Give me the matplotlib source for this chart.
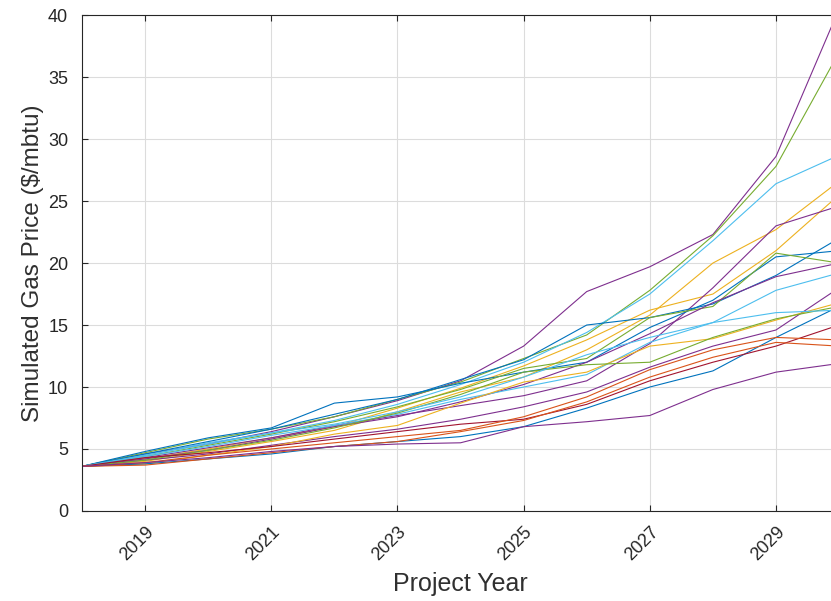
import numpy as np
import matplotlib
matplotlib.use('Agg')
import matplotlib.pyplot as plt

# 模拟天然气价格路径
years = list(range(2018, 2031))

paths = [
    [3.6, 4.6, 5.4, 6.4, 7.6, 8.9, 10.5, 13.3, 17.7, 19.7, 22.3, 28.6, 40.5],
    [3.6, 4.7, 5.8, 6.6, 7.6, 9.0, 10.4, 12.3, 14.2, 17.8, 22.2, 27.8, 37.0],
    [3.6, 4.5, 5.5, 6.3, 7.3, 8.6, 10.2, 12.0, 14.4, 17.5, 21.8, 26.4, 28.7],
    [3.6, 4.0, 4.8, 5.6, 6.5, 8.0, 9.6, 10.8, 13.0, 15.8, 20.0, 22.7, 26.6],
    [3.6, 4.2, 5.0, 5.9, 6.8, 8.3, 9.9, 11.7, 13.8, 16.2, 17.5, 21.0, 25.5],
    [3.6, 4.3, 5.1, 5.9, 6.9, 7.7, 8.5, 9.3, 10.5, 13.5, 18.0, 23.0, 24.6],
    [3.6, 4.6, 5.6, 6.6, 7.8, 9.0, 10.6, 12.2, 15.0, 15.6, 16.7, 19.0, 22.0],
    [3.6, 4.8, 5.9, 6.7, 8.7, 9.2, 10.3, 11.2, 12.0, 14.8, 17.0, 20.5, 21.0],
    [3.6, 4.4, 5.3, 6.2, 7.2, 8.4, 9.8, 11.5, 12.3, 15.6, 16.5, 20.8, 20.0],
    [3.6, 4.2, 4.9, 5.8, 6.8, 7.6, 8.8, 10.2, 12.0, 14.3, 16.8, 18.9, 20.0],
    [3.6, 4.4, 5.2, 6.1, 6.9, 7.8, 9.0, 10.0, 11.0, 13.6, 15.2, 17.8, 19.2],
    [3.6, 4.1, 4.6, 5.3, 6.0, 6.6, 7.4, 8.4, 9.6, 11.6, 13.3, 14.6, 18.0],
    [3.6, 3.8, 4.5, 5.2, 6.2, 6.9, 8.7, 10.4, 11.2, 13.3, 13.9, 15.4, 16.8],
    [3.6, 4.1, 4.9, 5.7, 6.7, 7.9, 9.4, 11.2, 11.8, 12.0, 14.0, 15.5, 16.5],
    [3.6, 3.8, 4.2, 4.6, 5.2, 5.6, 6.0, 6.8, 8.3, 10.0, 11.3, 14.0, 16.5],
    [3.6, 4.5, 5.4, 6.3, 7.0, 8.0, 9.2, 10.8, 12.6, 14.0, 15.2, 16.0, 16.2],
    [3.6, 4.3, 4.7, 5.2, 5.8, 6.4, 7.0, 7.4, 8.6, 10.5, 12.0, 13.3, 15.0],
    [3.6, 3.9, 4.5, 5.0, 5.5, 6.0, 6.5, 7.6, 9.2, 11.4, 13.0, 14.0, 13.8],
    [3.6, 3.7, 4.2, 4.7, 5.2, 5.6, 6.4, 7.3, 8.8, 10.8, 12.4, 13.6, 13.3],
    [3.6, 3.9, 4.3, 4.8, 5.2, 5.4, 5.5, 6.8, 7.2, 7.7, 9.8, 11.2, 11.9],
]

xticks = [2019, 2021, 2023, 2025, 2027, 2029]
yticks = [0, 5, 10, 15, 20, 25, 30, 35, 40]

# MATLAB 默认配色
matlab = ['#0072BD', '#D95319', '#EDB120', '#7E2F8E', '#77AC30', '#4DBEEE', '#A2142F']
line_colors = [3, 4, 5, 2, 2, 3, 0, 0, 4, 3, 5, 3, 2, 4, 0, 5, 6, 1, 1, 3]

plt.rcParams['font.family'] = ['Liberation Sans', 'DejaVu Sans']

fig = plt.figure(figsize=(8.31, 6.01), dpi=100)
ax = fig.add_axes([0.0987, 0.1498, 0.911, 0.825])

for p, c in zip(paths, line_colors):
    ax.plot(years, p, color=matlab[c], linewidth=0.8)

ax.set_xlim(2018, 2030)
ax.set_ylim(0, 40)
ax.set_xticks(xticks)
ax.set_yticks(yticks)
ax.set_xticklabels([str(y) for y in xticks], rotation=45, ha='right', va='top',
                   rotation_mode='anchor')
ax.tick_params(direction='in', top=True, right=True, labelsize=13, colors='#262626',
               length=4, width=0.8)
ax.tick_params(axis='y', pad=10)
ax.tick_params(axis='x', pad=9)
ax.grid(True, color='#dcdcdc', linewidth=0.8)
ax.set_axisbelow(True)
for s in ax.spines.values():
    s.set_color('#262626')
    s.set_linewidth(0.8)

ax.set_xlabel('Project Year', fontsize=18, color='#303030', labelpad=6)
ax.set_ylabel('Simulated Gas Price ($/mbtu)', fontsize=17.5, color='#303030', labelpad=3)

plt.savefig('out.png', dpi=100)
